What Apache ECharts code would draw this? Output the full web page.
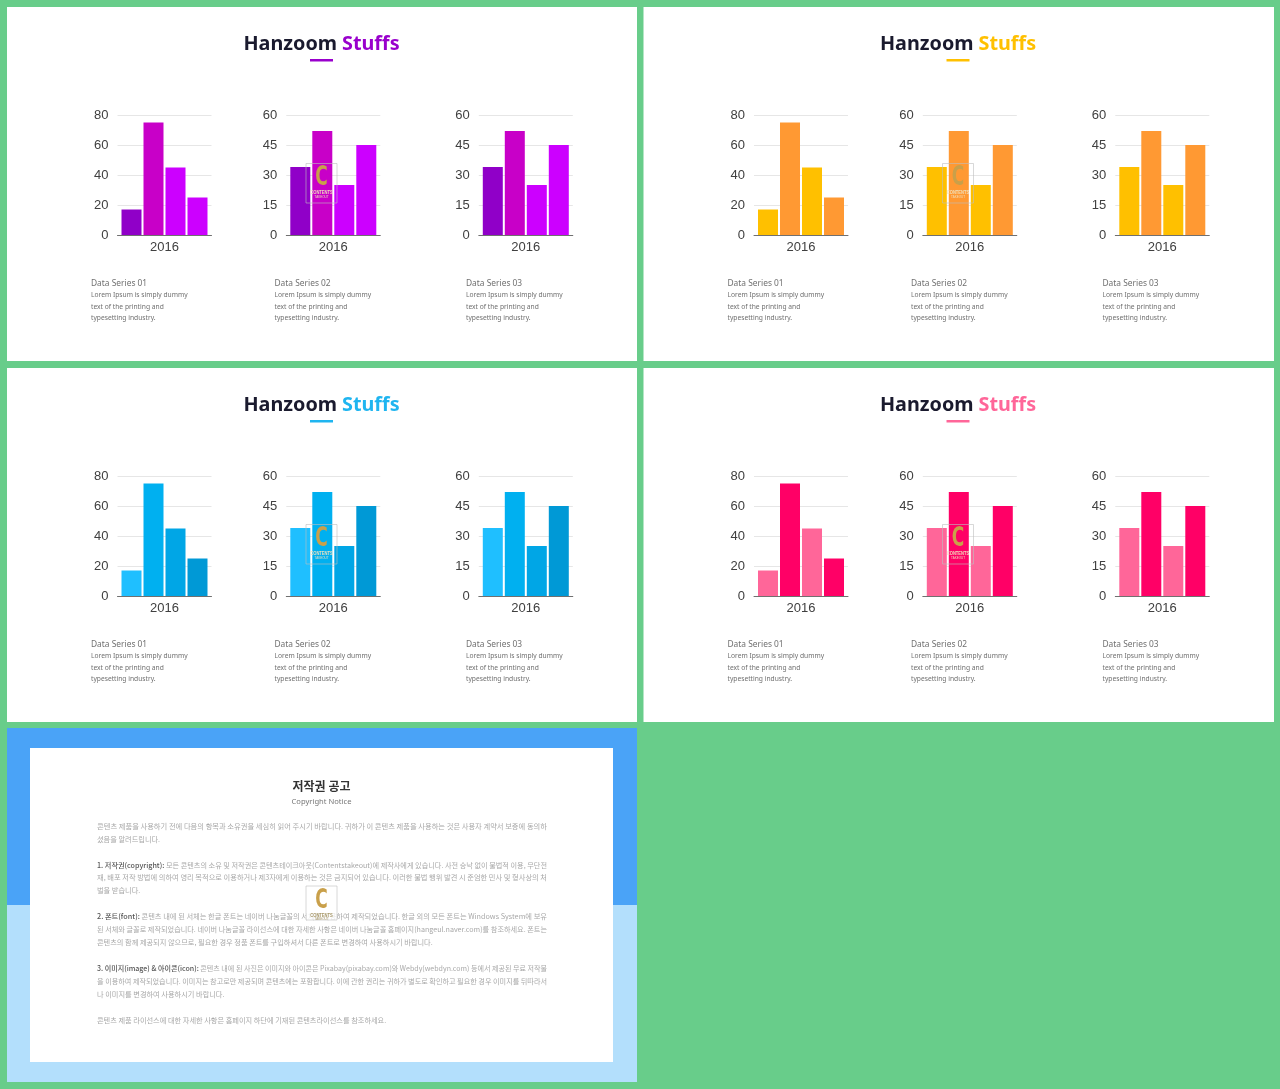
<!DOCTYPE html>
<html>
<head>
<meta charset="utf-8">
<style>
html, body { margin: 0; padding: 0; background: #68cd8a; }
#chart { width: 1280px; height: 1089px; }
</style>
<script src="https://cdn.jsdelivr.net/npm/echarts@6/dist/echarts.min.js"></script>
</head>
<body>
<div id="chart"></div>
<script>
var categories = ['2016'];
var values01 = [17, 75, 45, 25];
var values02 = [34, 52, 25, 45];
var values03 = [34, 52, 25, 45];
var ticks01 = { max: 80, interval: 20 };
var ticks02 = { max: 60, interval: 15 };
var ticks03 = { max: 60, interval: 15 };
var seriesTitles = ['Data Series 01', 'Data Series 02', 'Data Series 03'];
var bodyLines = ['Lorem Ipsum is simply dummy', 'text of the printing and', 'typesetting industry.'];

var purple = ['#9000c8', '#c800c8', '#cc00ff', '#cc00ff'];
var orange = ['#ffc000', '#ff9933', '#ffc000', '#ff9933'];
var blue = ['#1fbfff', '#00b0f0', '#00a6e6', '#0099d6'];
var pink = ['#ff6699', '#ff0066', '#ff6699', '#ff0066'];

var notice = [
  { y: 826, full: true, text: '콘텐츠 제품을 사용하기 전에 다음의 항목과 소유권을 세심히 읽어 주시기 바랍니다. 귀하가 이 콘텐츠 제품을 사용하는 것은 사용자 계약서 보증에 동의하' },
  { y: 839, text: '셨음을 알려드립니다.' },
  { y: 865, full: true, lead: '1. 저작권(copyright):', text: ' 모든 콘텐츠의 소유 및 저작권은 콘텐츠테이크아웃(Contentstakeout)에 제작사에게 있습니다. 사전 승낙 없이 불법적 이용, 무단전' },
  { y: 877, full: true, text: '재, 배포 저작 방법에 의하여 영리 목적으로 이용하거나 제3자에게 이용하는 것은 금지되어 있습니다. 이러한 불법 행위 발견 시 준엄한 민사 및 형사상의 처' },
  { y: 890, text: '벌을 받습니다.' },
  { y: 916, full: true, lead: '2. 폰트(font):', text: ' 콘텐츠 내에 된 서체는 한글 폰트는 네이버 나눔글꼴의 서체를 사용하여 제작되었습니다. 한글 외의 모든 폰트는 Windows System에 보유' },
  { y: 929, full: true, text: '된 서체와 글꼴로 제작되었습니다. 네이버 나눔글꼴 라이선스에 대한 자세한 사항은 네이버 나눔글꼴 홈페이지(hangeul.naver.com)를 참조하세요. 폰트는' },
  { y: 942, text: '콘텐츠의 함께 제공되지 않으므로, 필요한 경우 정품 폰트를 구입하셔서 다른 폰트로 변경하여 사용하시기 바랍니다.' },
  { y: 968, full: true, lead: '3. 이미지(image) & 아이콘(icon):', text: ' 콘텐츠 내에 된 사진은 이미지와 아이콘은 Pixabay(pixabay.com)와 Webdy(webdyn.com) 등에서 제공된 무료 저작물' },
  { y: 981, full: true, text: '을 이용하여 제작되었습니다. 이미지는 참고로만 제공되며 콘텐츠에는 포함합니다. 이에 관한 권리는 귀하가 별도로 확인하고 필요한 경우 이미지를 뒤따라서' },
  { y: 994, text: '나 이미지를 변경하여 사용하시기 바랍니다.' },
  { y: 1020, text: '콘텐츠 제품 라이선스에 대한 자세한 사항은 홈페이지 하단에 기재된 콘텐츠라이선스를 참조하세요.' }
];

var sansFont = '"Noto Sans", "Noto Sans CJK KR", sans-serif';
var krFont = '"Noto Sans CJK KR", sans-serif';
var leadFont = '500 7.2px ' + krFont;
var noticeFont = '7.2px ' + krFont;
var noticeWidth = 450;

var panels = [
  { x: 0, y: 0, w: 630, colors: purple, accent: '#9900cc' },
  { x: 636.5, y: 0, w: 630.5, colors: orange, accent: '#ffc000' },
  { x: 0, y: 361, w: 630, colors: blue, accent: '#1fb5f0' },
  { x: 636.5, y: 361, w: 630.5, colors: pink, accent: '#ff6699' }
];
// one mini chart per slot inside a panel
var slots = [
  { left: 117.5, textX: 91, values: values01, ticks: ticks01 },
  { left: 286.3, textX: 274.5, values: values02, ticks: ticks02 },
  { left: 478.8, textX: 466, values: values03, ticks: ticks03 }
];

var grids = [], xAxes = [], yAxes = [], series = [], titles = [], graphics = [];

var measureCtx = document.createElement('canvas').getContext('2d');
function textWidth(str, font) {
  measureCtx.font = font;
  return measureCtx.measureText(str).width;
}

function watermark(cx, top, h, back, labelColor) {
  var list = [];
  list.push({ type: 'rect', z: 50, shape: { x: cx - 15.5, y: top, width: 31, height: h },
    style: { fill: back, stroke: 'rgba(190,190,190,0.6)', lineWidth: 1 } });
  list.push({ type: 'text', z: 51, x: cx, y: top + 14.5, scaleX: 0.63,
    style: { text: 'C', fill: '#c9a04a', font: 'bold 27px "DejaVu Sans"', align: 'center', verticalAlign: 'middle' } });
  list.push({ type: 'text', z: 51, x: cx, y: top + 29, scaleX: 0.68,
    style: { text: 'CONTENTS', fill: labelColor, font: 'bold 6px "Liberation Sans"', align: 'center', verticalAlign: 'middle' } });
  list.push({ type: 'text', z: 51, x: cx, y: top + 33.5,
    style: { text: 'TAKEOUT', fill: labelColor, font: '3px "Liberation Sans"', align: 'center', verticalAlign: 'middle' } });
  return list;
}

graphics.push({ type: 'rect', z: 0, shape: { x: 7, y: 728, width: 630, height: 177 }, style: { fill: '#4aa3f7' } });
graphics.push({ type: 'rect', z: 0, shape: { x: 7, y: 905, width: 630, height: 177 }, style: { fill: '#b3dffc' } });
graphics.push({ type: 'rect', z: 1, shape: { x: 30, y: 748, width: 583, height: 314 }, style: { fill: '#ffffff' } });

panels.forEach(function (p) {
  graphics.push({ type: 'rect', z: -1, shape: { x: p.x + 7, y: p.y + 7, width: p.w, height: 354 }, style: { fill: '#ffffff' } });
  titles.push({
    text: '{a|Hanzoom} {b|Stuffs}',
    left: p.x + 316.5,
    top: p.y + 29,
    textAlign: 'center',
    textStyle: {
      rich: {
        a: { fontFamily: sansFont, fontSize: 19.8, fontWeight: 700, color: '#1a1a2e' },
        b: { fontFamily: sansFont, fontSize: 19.8, fontWeight: 700, color: p.accent }
      }
    }
  });
  graphics.push({ type: 'rect', z: 2, shape: { x: p.x + 310, y: p.y + 59, width: 23, height: 2.5 }, style: { fill: p.accent } });

  slots.forEach(function (s, si) {
    var idx = grids.length;
    grids.push({ left: p.x + s.left, top: p.y + 115, width: 94, height: 120 });
    xAxes.push({
      type: 'category', gridIndex: idx, data: categories,
      axisTick: { show: false },
      axisLine: { lineStyle: { color: '#707070', width: 1 } },
      axisLabel: { color: '#404040', fontSize: 13, fontFamily: 'Liberation Sans', margin: 6 }
    });
    yAxes.push({
      type: 'value', gridIndex: idx, min: 0, max: s.ticks.max, interval: s.ticks.interval,
      axisLine: { show: false }, axisTick: { show: false },
      splitLine: { lineStyle: { color: '#e6e6e6', width: 1 } },
      axisLabel: { color: '#404040', fontSize: 13, fontFamily: 'Liberation Sans', margin: 9, padding: [2, 0, 0, 0] }
    });
    s.values.forEach(function (v, vi) {
      series.push({
        type: 'bar', xAxisIndex: idx, yAxisIndex: idx, data: [v],
        barWidth: 20, barGap: '10%', silent: true,
        itemStyle: { color: p.colors[vi] }
      });
    });
    graphics.push({ type: 'text', z: 3, x: p.x + s.textX, y: p.y + 284,
      style: { text: seriesTitles[si], fill: '#707070', font: '8.4px ' + sansFont, verticalAlign: 'middle' } });
    bodyLines.forEach(function (line, li) {
      graphics.push({ type: 'text', z: 3, x: p.x + s.textX, y: p.y + 295.5 + li * 11.5,
        style: { text: line, fill: '#707070', font: '6.7px ' + sansFont, verticalAlign: 'middle' } });
    });
  });
  watermark(p.x + 321.5, p.y + 163.5, 39.5, 'rgba(255,255,255,0)', 'rgba(240,225,190,0.95)').forEach(function (g) { graphics.push(g); });
});

graphics.push({ type: 'text', z: 3, x: 321.5, y: 786,
  style: { text: '저작권 공고', fill: '#333333', font: 'bold 12px ' + krFont, align: 'center', verticalAlign: 'middle' } });
graphics.push({ type: 'text', z: 3, x: 321.5, y: 801.5,
  style: { text: 'Copyright Notice', fill: '#777777', font: '7.6px ' + sansFont, align: 'center', verticalAlign: 'middle' } });
notice.forEach(function (n) {
  var content = n.lead ? '{l|' + n.lead + '}{t|' + n.text + '}' : '{t|' + n.text + '}';
  // the long lines are justified in the original, all ending on the same right edge
  var drawn = textWidth(n.text, noticeFont) + (n.lead ? textWidth(n.lead, leadFont) : 0);
  graphics.push({ type: 'text', z: 3, x: 97, y: n.y, scaleX: n.full ? noticeWidth / drawn : 1,
    style: {
      text: content, verticalAlign: 'middle',
      rich: {
        l: { font: leadFont, fill: '#555555' },
        t: { font: noticeFont, fill: '#a8a8a8' }
      }
    }
  });
});
watermark(321.5, 886, 34, 'rgba(255,255,255,0.75)', '#a89868').forEach(function (g) { graphics.push(g); });

var myChart = echarts.init(document.getElementById('chart'));
myChart.setOption({
  animation: false,
  backgroundColor: '#68cd8a',
  title: titles,
  tooltip: { show: false },
  legend: { show: false },
  grid: grids,
  xAxis: xAxes,
  yAxis: yAxes,
  series: series,
  graphic: { elements: graphics }
});
</script>
</body>
</html>
